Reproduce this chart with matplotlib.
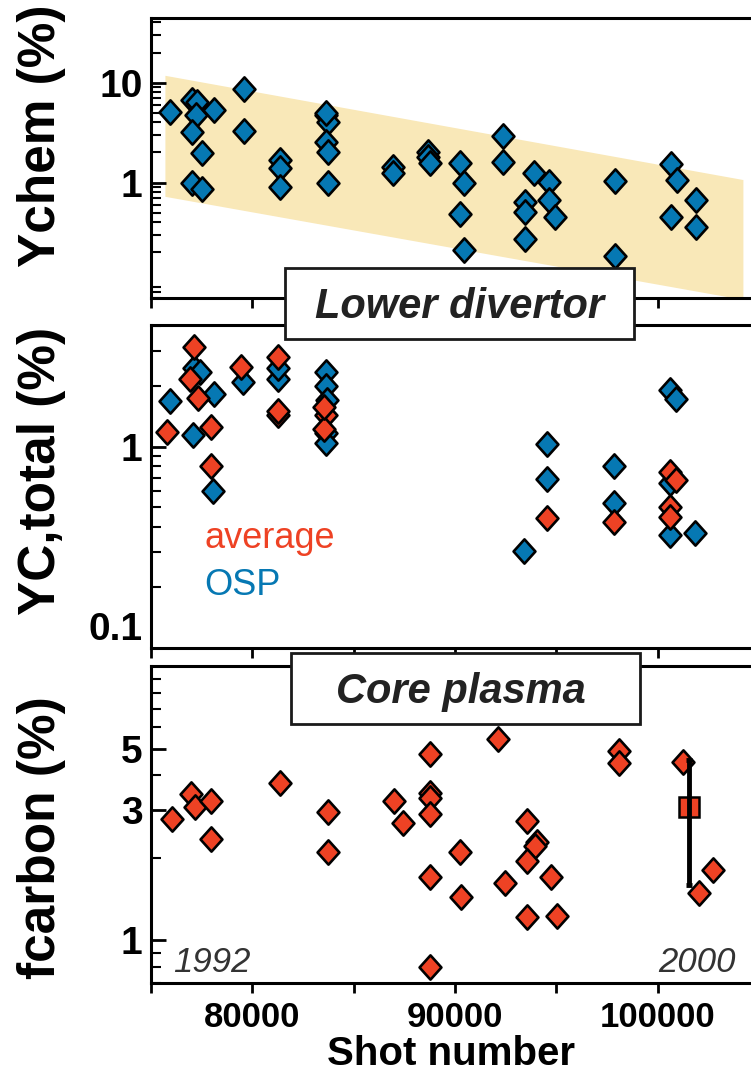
import numpy as np
import matplotlib
matplotlib.use("Agg")
import matplotlib.pyplot as plt
from matplotlib.path import Path
from matplotlib.patches import Rectangle, Polygon
from matplotlib.ticker import NullFormatter, LogLocator

plt.rcParams['font.family'] = ['Liberation Sans', 'DejaVu Sans']

# ---- data ----
# upper panel: chemical erosion yield at outer strike point
ychem_shot = [75958, 77016, 77247, 77208, 77016, 77497, 77016, 77497, 78112, 79574,
              79574, 81381, 81381, 81381, 83650, 83747, 83650, 83747, 83747, 83612,
              86920, 86920, 88650, 88689, 88746, 90227, 90438, 90227, 90438, 92342,
              92342, 93881, 93458, 93458, 93458, 94650, 94650, 94919, 97881, 97881,
              100670, 100957, 100670, 101881, 101881]
ychem_val = [5.13, 6.7, 6.46, 4.75, 3.24, 1.97, 1.0, 0.86, 5.33, 8.6,
             3.29, 1.69, 1.39, 0.91, 4.75, 4.07, 2.57, 2.04, 0.985, 4.94,
             1.445, 1.24, 2.04, 1.82, 1.56, 1.56, 1.0, 0.486, 0.212, 2.93,
             1.6, 1.24, 0.646, 0.513, 0.272, 1.02, 0.67, 0.45, 1.04, 0.185,
             1.54, 1.05, 0.45, 0.67, 0.363]
band_shot = [75711, 104225]
band_upper = [11.7, 1.06]
band_lower = [0.72, 0.067]

# middle panel: total carbon yield
osp_shot = [75920, 77055, 77112, 77401, 78112, 78035, 79516, 81285, 81285, 83612,
            83650, 83689, 83650, 83650, 94554, 94554, 93400, 97842, 97842, 100611,
            100919, 100611, 100611, 101823]
osp_val = [1.69, 1.14, 2.46, 2.36, 1.82, 0.604, 2.11, 2.16, 2.46, 2.36,
           2.0, 1.71, 1.17, 1.04, 1.03, 0.689, 0.304, 0.804, 0.523, 1.91,
           1.72, 0.662, 0.364, 0.373]
avg_shot = [75805, 77112, 76920, 77343, 77939, 77939, 79458, 81247, 81285, 81285,
            83612, 83554, 83554, 94554, 97842, 100611, 100919, 100611, 100611]
avg_val = [1.19, 3.14, 2.16, 1.74, 1.26, 0.804, 2.5, 2.79, 1.44, 1.5,
           1.44, 1.23, 1.58, 0.445, 0.424, 0.751, 0.683, 0.503, 0.448]

# lower panel: core carbon fraction
fc_shot = [76055, 76978, 77170, 77978, 77978, 81343, 83747, 83747, 86977, 87439,
           88746, 88746, 88746, 88746, 88746, 88746, 90246, 90285, 92112, 92458,
           93554, 94035, 93938, 93554, 93554, 94746, 95035, 98073, 98073, 101246,
           102054, 102727]
fc_val = [2.76, 3.41, 3.07, 3.22, 2.34, 3.76, 2.93, 2.10, 3.22, 2.67,
          4.79, 3.45, 3.3, 2.90, 1.70, 0.80, 2.10, 1.445, 5.43, 1.62,
          2.73, 2.29, 2.2, 1.95, 1.22, 1.71, 1.23, 4.9, 4.44, 4.47,
          1.49, 1.80]
fc2000_shot = [101534]
fc2000_val = [3.07]
fc2000_lo = [1.59]
fc2000_hi = [4.56]

BLUE = '#0678b3'
RED = '#ee4224'
BAND = '#f9e8b8'

W, H = 751, 1079
fig = plt.figure(figsize=(W / 100, H / 100), dpi=100)

def add_ax(top, bottom, left=151):
    return fig.add_axes([left / W, 1 - bottom / H, 1 - left / W, (bottom - top) / H])

ax1 = add_ax(18.3, 298)
ax2 = add_ax(325, 648)
ax3 = add_ax(666, 983)

diamond = Path([(0, 1), (0.9, 0), (0, -1), (-0.9, 0), (0, 1)],
               [Path.MOVETO, Path.LINETO, Path.LINETO, Path.LINETO, Path.CLOSEPOLY])
mk = dict(marker=diamond, ms=17.5, mec='black', mew=1.9, ls='none')

# band
band_xy = list(zip(band_shot, band_upper)) + list(zip(band_shot[::-1], band_lower[::-1]))
ax1.add_patch(Polygon(band_xy, closed=True, fc=BAND, ec='none', zorder=1))
ax1.plot(ychem_shot, ychem_val, mfc=BLUE, zorder=3, **mk)

ax2.plot(osp_shot, osp_val, mfc=BLUE, zorder=3, **mk)
ax2.plot(avg_shot, avg_val, mfc=RED, zorder=4, **mk)

ax3.plot(fc_shot, fc_val, mfc=RED, zorder=3, **mk)
ax3.plot(fc2000_shot, fc2000_val, marker='s', ms=15, mfc=RED, mec='black', mew=1.8,
         ls='none', zorder=3)
err_lo = np.array(fc2000_val) - np.array(fc2000_lo)
err_hi = np.array(fc2000_hi) - np.array(fc2000_val)
ax3.errorbar(fc2000_shot, fc2000_val, yerr=[err_lo, err_hi], fmt='none', ecolor='black',
             elinewidth=3.5, capsize=2.5, capthick=3.5, zorder=4)

xmin, xmax = 75000, 104600
xt = np.arange(75000, 105000, 5000)
for ax in (ax1, ax2, ax3):
    ax.set_yscale('log')
    ax.set_xlim(xmin, xmax)
    ax.spines['right'].set_visible(False)
    for s in ('left', 'top', 'bottom'):
        ax.spines[s].set_linewidth(2.2)
    ax.set_xticks(xt)
    ax.tick_params(axis='x', which='major', direction='out', length=7, width=2)
    ax.tick_params(axis='y', which='major', direction='in', length=11, width=2,
                   pad=6, labelsize=28)
    ax.tick_params(axis='y', which='minor', direction='in', length=7, width=1.5)
    ax.yaxis.set_minor_locator(LogLocator(base=10, subs=np.arange(2, 10)))
    ax.yaxis.set_minor_formatter(NullFormatter())
    ax.tick_params(axis='x', labelbottom=False)

ax3.set_xticklabels(['' if t % 10000 else str(t) for t in xt])
ax3.tick_params(axis='x', labelbottom=True, labelsize=25, pad=6)
for lab in ax3.get_xticklabels():
    lab.set_fontweight('bold')

ax1.set_ylim(0.07, 44)
ax1.set_yticks([1, 10], labels=['1', '10'])
ax2.set_ylim(0.1, 4.03)
ax2.set_yticks([0.1, 1], labels=['0.1', '1'])
ax3.set_ylim(0.7, 10)
ax3.set_yticks([1, 3, 5], labels=['1', '3', '5'])
for ax in (ax1, ax2, ax3):
    for lab in ax.get_yticklabels():
        lab.set_fontweight('bold')
ax2.yaxis.get_major_ticks()[0].label1.set_verticalalignment('bottom')

ax3.set_xlabel('Shot number', fontsize=29, fontweight='bold', labelpad=1)

# y labels
lab_kw = dict(rotation=90, ha='center', va='center', fontsize=37, fontweight='bold')
fig.text(42 / W, 1 - 136 / H, 'Ychem (%)', **lab_kw)
fig.text(42 / W, 1 - 471 / H, 'YC,total (%)', **lab_kw)
fig.text(42 / W, 1 - 838 / H, 'fcarbon (%)', **lab_kw)

# boxed titles
def boxed(x0, x1, y0, y1, text, xc, yb):
    fig.add_artist(Rectangle((x0 / W, 1 - y1 / H), (x1 - x0) / W, (y1 - y0) / H,
                             transform=fig.transFigure, fc='white', ec='#1a1a1a',
                             lw=2, zorder=10))
    fig.text(xc / W, 1 - yb / H, text, ha='center', va='baseline', fontsize=30,
             fontweight='bold', fontstyle='italic', color='#222222', zorder=11)

boxed(285.4, 634.2, 268.3, 339.3, 'Lower divertor', 459.8, 318)
boxed(291.2, 640.0, 652.7, 724.0, 'Core plasma', 461.0, 703.3)

# legend text
fig.text(204 / W, 1 - 548.3 / H, 'average', color=RED, fontsize=26, va='baseline')
fig.text(204 / W, 1 - 595 / H, 'OSP', color=BLUE, fontsize=26, va='baseline')

# years
fig.text(173 / W, 1 - 971.7 / H, '1992', fontsize=25, fontstyle='italic',
         color='#333333', va='baseline')
fig.text(735.5 / W, 1 - 971.7 / H, '2000', fontsize=25, fontstyle='italic',
         color='#333333', va='baseline', ha='right')

fig.savefig('out.png', dpi=100)
